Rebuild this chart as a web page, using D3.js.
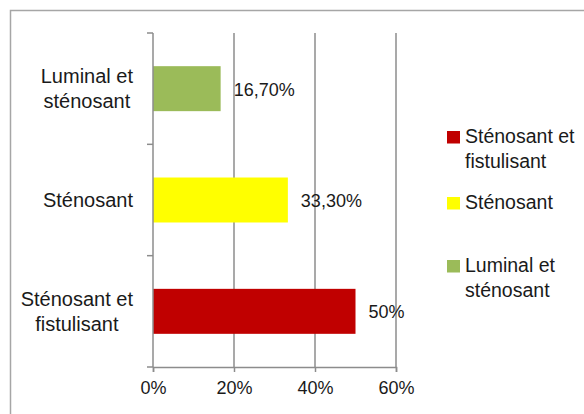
<!DOCTYPE html>
<html>
<head>
<meta charset="utf-8">
<script src="https://cdn.jsdelivr.net/npm/d3@7"></script>
<style>
  html, body { margin: 0; padding: 0; background: #fff; }
  svg { display: block; font-family: "Liberation Sans", Arial, sans-serif; }
</style>
</head>
<body>
<svg id="chart" width="584" height="414"></svg>
<script>
// Categories, top to bottom, with their line breaks
const categories = ["Luminal et sténosant", "Sténosant", "Sténosant et fistulisant"];
const categoryLines = [["Luminal et", "sténosant"], ["Sténosant"], ["Sténosant et", "fistulisant"]];
const values = [16.7, 33.3, 50];
const valueLabels = ["16,70%", "33,30%", "50%"];
const colors = ["#9bbb59", "#ffff00", "#c00000"];
const xTicks = [0, 20, 40, 60];
const legendOrder = [2, 1, 0];

const svg = d3.select("#chart");

// Outer frame
svg.append("rect")
  .attr("x", 10.5).attr("y", 10.5)
  .attr("width", 600).attr("height", 420)
  .attr("fill", "none").attr("stroke", "#a6a6a6").attr("stroke-width", 1.5);

const plot = { left: 153, right: 396, top: 33, bottom: 367 };

const x = d3.scaleLinear().domain([0, 60]).range([plot.left, plot.right]);
const y = d3.scaleBand().domain(categories)
  .range([plot.top, plot.bottom])
  .paddingInner(0.596).paddingOuter(0.298);

const axisColor = "#8c8c8c";

// Vertical gridlines
svg.append("g").selectAll("line")
  .data(xTicks.filter(d => d > 0))
  .join("line")
  .attr("x1", d => x(d)).attr("x2", d => x(d))
  .attr("y1", plot.top).attr("y2", plot.bottom)
  .attr("stroke", axisColor).attr("stroke-width", 1.5);

// Bars
svg.append("g").selectAll("rect")
  .data(categories)
  .join("rect")
  .attr("x", x(0))
  .attr("y", d => y(d))
  .attr("width", (d, i) => x(values[i]) - x(0))
  .attr("height", y.bandwidth())
  .attr("fill", (d, i) => colors[i]);

// Left axis with ticks at band boundaries
const step = y.step();
const boundaries = d3.range(categories.length + 1).map(i => plot.top + i * step);
svg.append("line")
  .attr("x1", plot.left).attr("x2", plot.left)
  .attr("y1", plot.top).attr("y2", plot.bottom)
  .attr("stroke", axisColor).attr("stroke-width", 1.5);
svg.append("g").selectAll("line")
  .data(boundaries)
  .join("line")
  .attr("x1", plot.left - 6).attr("x2", plot.left)
  .attr("y1", d => d).attr("y2", d => d)
  .attr("stroke", axisColor).attr("stroke-width", 1.5);

// Bottom axis
const xAxis = d3.axisBottom(x).tickValues(xTicks).tickFormat(d => d + "%").tickSize(5).tickPadding(9);
const gx = svg.append("g").attr("transform", `translate(0,${plot.bottom})`).call(xAxis);
gx.select(".domain").attr("stroke", axisColor).attr("stroke-width", 1.5);
gx.selectAll(".tick line").attr("stroke", axisColor).attr("stroke-width", 1.5);
gx.selectAll(".tick text")
  .attr("font-family", "Liberation Sans, Arial, sans-serif")
  .attr("font-size", 18).attr("fill", "#1a1a1a");

// Category labels: lines centred within a right-aligned block
const catGroup = svg.append("g");
const labelRight = 133;
const lineH = 24.5;
categories.forEach((c, i) => {
  const lines = categoryLines[i];
  const g = catGroup.append("g");
  const texts = lines.map((t, j) => g.append("text")
    .attr("font-size", 20).attr("fill", "#1a1a1a")
    .attr("text-anchor", "middle")
    .attr("y", y(c) + y.bandwidth() / 2 + 7 + (j - (lines.length - 1) / 2) * lineH)
    .text(t));
  const w = d3.max(texts, t => t.node().getComputedTextLength());
  texts.forEach(t => t.attr("x", labelRight - w / 2));
});

// Value labels
svg.append("g").selectAll("text")
  .data(categories)
  .join("text")
  .attr("x", (d, i) => x(values[i]) + 13)
  .attr("y", d => y(d) + y.bandwidth() / 2 + 7)
  .attr("font-size", 18).attr("fill", "#1a1a1a")
  .text((d, i) => valueLabels[i]);

// Legend
const legendY = [131, 197, 260];
const legend = svg.append("g");
legendOrder.forEach((idx, k) => {
  const gy = legendY[k];
  legend.append("rect")
    .attr("x", 447).attr("y", gy)
    .attr("width", 13).attr("height", 12.5)
    .attr("fill", colors[idx]);
  categoryLines[idx].forEach((t, j) => {
    legend.append("text")
      .attr("x", 465).attr("y", gy + 12 + j * lineH)
      .attr("font-size", 19.5).attr("fill", "#1a1a1a")
      .text(t);
  });
});
</script>
</body>
</html>
